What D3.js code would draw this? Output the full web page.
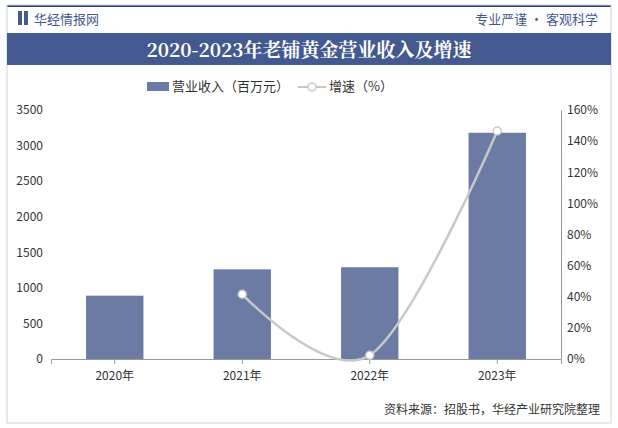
<!DOCTYPE html><html><head><meta charset="utf-8"><script src="https://cdn.jsdelivr.net/npm/d3@7"></script>
<style>body{margin:0;background:#fff}svg{font-family:"Noto Sans CJK SC",sans-serif}</style></head><body><svg width="618" height="428"></svg>
<script>
const years=["2020年","2021年","2022年","2023年"];
const revenue=[890,1260,1290,3180];
const growth=[null,41.6,2.4,146.5];
const leftTicks=[0,500,1000,1500,2000,2500,3000,3500];
const rightTicks=[0,20,40,60,80,100,120,140,160];
const svg=d3.select("svg");
svg.append("rect").attr("x",7).attr("y",5).attr("width",604).attr("height",2).attr("fill","#2d3e6b");
svg.append("rect").attr("x",7).attr("y",5).attr("width",604).attr("height",418).attr("fill","none").attr("stroke","#c9d3e3");
svg.append("rect").attr("x",18).attr("y",11).attr("width",4).attr("height",14).attr("fill","#44598f");
svg.append("rect").attr("x",24).attr("y",11).attr("width",4).attr("height",14).attr("fill","#44598f");
svg.append("text").attr("x",34).attr("y",24).attr("font-size",13).attr("fill","#44598f").text("华经情报网");
svg.append("text").attr("x",598).attr("y",24).attr("text-anchor","end").attr("font-size",13).attr("fill","#44598f").text("专业严谨 • 客观科学");
svg.append("rect").attr("x",7).attr("y",33).attr("width",604).attr("height",32).attr("fill","#44598f");
svg.append("text").attr("x",309).attr("y",57).attr("text-anchor","middle").attr("font-size",19).attr("font-weight","bold").attr("fill","#fff").attr("font-family","Noto Serif CJK SC,serif").text("2020-2023年老铺黄金营业收入及增速");
svg.append("rect").attr("x",147).attr("y",82).attr("width",22).attr("height",9).attr("fill","#6b7ba3");
svg.append("text").attr("x",172).attr("y",91).attr("font-size",13).attr("fill","#333").text("营业收入（百万元）");
svg.append("line").attr("x1",298).attr("x2",326).attr("y1",87).attr("y2",87).attr("stroke","#c8c8c8").attr("stroke-width",2);
svg.append("circle").attr("cx",312).attr("cy",87).attr("r",4).attr("fill","#fff").attr("stroke","#c8c8c8").attr("stroke-width",1.5);
svg.append("text").attr("x",329).attr("y",91).attr("font-size",13).attr("fill","#333").text("增速（%）");
const x=d3.scaleBand().domain(years).range([51,561]).paddingInner(0.55).paddingOuter(0.275);
const yL=d3.scaleLinear().domain([0,3500]).range([359,110]);
const yR=d3.scaleLinear().domain([0,160]).range([359,110]);
const g=svg.append("g");
g.selectAll(".b").data(years).join("rect").attr("x",d=>x(d)).attr("width",x.bandwidth()).attr("y",(d,i)=>yL(revenue[i])).attr("height",(d,i)=>359-yL(revenue[i])).attr("fill","#6b7ba3");
const la=svg.append("g").attr("transform","translate(51,0)").call(d3.axisLeft(yL).tickValues(leftTicks).tickFormat(d3.format("d")).tickSize(0).tickPadding(8));
la.select(".domain").remove();
const ra=svg.append("g").attr("transform","translate(561,0)").call(d3.axisRight(yR).tickValues(rightTicks).tickFormat(d=>d+"%").tickSize(0).tickPadding(6));
ra.select(".domain").attr("stroke","#999");
const xa=svg.append("g").attr("transform","translate(0,359)").call(d3.axisBottom(x).tickSize(5));
xa.select(".domain").attr("stroke","#999");xa.selectAll(".tick line").attr("stroke","#999");
svg.selectAll(".tick text").attr("font-size",12).attr("fill","#333").attr("font-family","Noto Sans CJK SC,sans-serif");
xa.selectAll(".tick text").attr("dy","1.1em");
const pts=years.map((d,i)=>[x(d)+x.bandwidth()/2,growth[i]]).filter(p=>p[1]!=null);
svg.append("path").attr("d",d3.line().x(p=>p[0]).y(p=>yR(p[1])).curve(d3.curveCardinal.tension(0))(pts)).attr("fill","none").attr("stroke","#c8c8c8").attr("stroke-width",2.5);
svg.selectAll(".pt").data(pts).join("circle").attr("cx",p=>p[0]).attr("cy",p=>yR(p[1])).attr("r",4).attr("fill","#fff").attr("stroke","#c8c8c8").attr("stroke-width",1.5);
svg.append("text").attr("x",600).attr("y",414).attr("text-anchor","end").attr("font-size",12).attr("fill","#333").text("资料来源：招股书，华经产业研究院整理");
</script></body></html>
